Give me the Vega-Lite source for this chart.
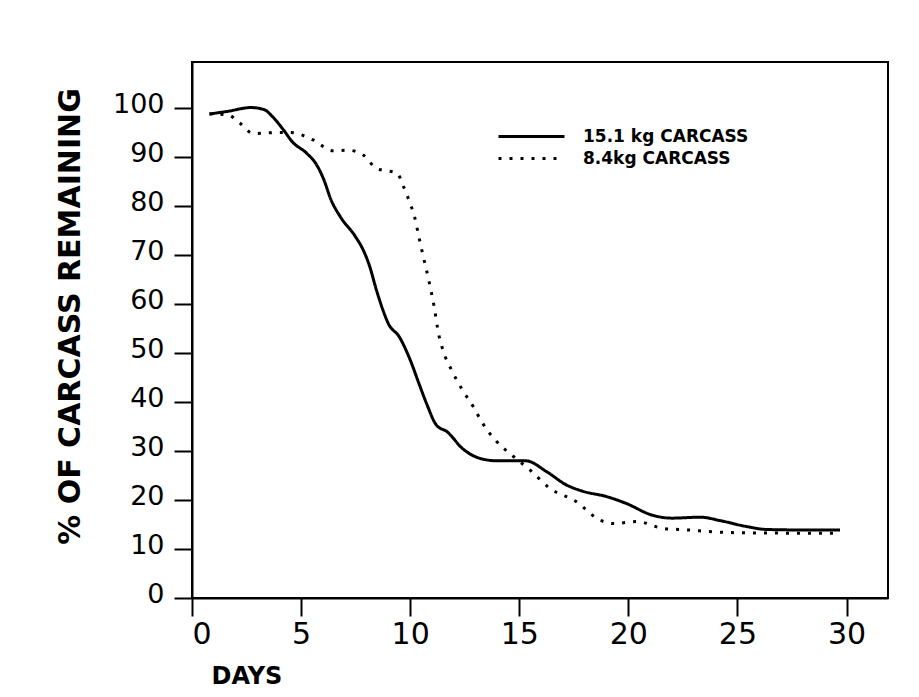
{
  "$schema": "https://vega.github.io/schema/vega-lite/v6.json",
  "width": 696,
  "height": 536,
  "autosize": {"type": "none"},
  "padding": {"left": 192, "top": 62, "right": 31, "bottom": 99},
  "background": "white",
  "config": {
    "view": {"stroke": "black", "strokeWidth": 2},
    "axis": {"grid": false, "domainColor": "black", "domainWidth": 2, "tickColor": "black", "tickWidth": 2, "tickSize": 18, "labelColor": "black", "labelFont": "DejaVu Sans", "titleColor": "black", "titleFont": "DejaVu Sans", "titleFontWeight": "bold"}
  },
  "data": {
    "values": [
      {"day": 0.8, "pct": 98.8, "series": "15.1 kg CARCASS"},
      {"day": 1.6, "pct": 99.3, "series": "15.1 kg CARCASS"},
      {"day": 2.7, "pct": 100.1, "series": "15.1 kg CARCASS"},
      {"day": 3.3, "pct": 99.7, "series": "15.1 kg CARCASS"},
      {"day": 3.7, "pct": 98.2, "series": "15.1 kg CARCASS"},
      {"day": 4.2, "pct": 95.5, "series": "15.1 kg CARCASS"},
      {"day": 4.6, "pct": 93.1, "series": "15.1 kg CARCASS"},
      {"day": 5.25, "pct": 90.8, "series": "15.1 kg CARCASS"},
      {"day": 5.7, "pct": 88.5, "series": "15.1 kg CARCASS"},
      {"day": 6.05, "pct": 85.3, "series": "15.1 kg CARCASS"},
      {"day": 6.35, "pct": 81.5, "series": "15.1 kg CARCASS"},
      {"day": 6.8, "pct": 77.8, "series": "15.1 kg CARCASS"},
      {"day": 7.5, "pct": 73.7, "series": "15.1 kg CARCASS"},
      {"day": 7.85, "pct": 71.0, "series": "15.1 kg CARCASS"},
      {"day": 8.15, "pct": 67.6, "series": "15.1 kg CARCASS"},
      {"day": 8.45, "pct": 62.9, "series": "15.1 kg CARCASS"},
      {"day": 8.75, "pct": 58.8, "series": "15.1 kg CARCASS"},
      {"day": 9.0, "pct": 56.0, "series": "15.1 kg CARCASS"},
      {"day": 9.5, "pct": 53.3, "series": "15.1 kg CARCASS"},
      {"day": 10.0, "pct": 48.6, "series": "15.1 kg CARCASS"},
      {"day": 10.4, "pct": 43.8, "series": "15.1 kg CARCASS"},
      {"day": 10.75, "pct": 39.7, "series": "15.1 kg CARCASS"},
      {"day": 11.2, "pct": 35.3, "series": "15.1 kg CARCASS"},
      {"day": 11.7, "pct": 33.9, "series": "15.1 kg CARCASS"},
      {"day": 12.4, "pct": 30.5, "series": "15.1 kg CARCASS"},
      {"day": 13.2, "pct": 28.5, "series": "15.1 kg CARCASS"},
      {"day": 14.0, "pct": 28.0, "series": "15.1 kg CARCASS"},
      {"day": 15.3, "pct": 28.0, "series": "15.1 kg CARCASS"},
      {"day": 16.25, "pct": 25.8, "series": "15.1 kg CARCASS"},
      {"day": 17.15, "pct": 23.1, "series": "15.1 kg CARCASS"},
      {"day": 17.9, "pct": 21.8, "series": "15.1 kg CARCASS"},
      {"day": 19.0, "pct": 20.7, "series": "15.1 kg CARCASS"},
      {"day": 19.9, "pct": 19.3, "series": "15.1 kg CARCASS"},
      {"day": 21.1, "pct": 16.9, "series": "15.1 kg CARCASS"},
      {"day": 22.0, "pct": 16.3, "series": "15.1 kg CARCASS"},
      {"day": 23.3, "pct": 16.5, "series": "15.1 kg CARCASS"},
      {"day": 24.2, "pct": 15.8, "series": "15.1 kg CARCASS"},
      {"day": 25.4, "pct": 14.6, "series": "15.1 kg CARCASS"},
      {"day": 26.3, "pct": 14.0, "series": "15.1 kg CARCASS"},
      {"day": 27.5, "pct": 13.9, "series": "15.1 kg CARCASS"},
      {"day": 29.7, "pct": 13.9, "series": "15.1 kg CARCASS"},
      {"day": 0.8, "pct": 98.8, "series": "8.4kg CARCASS"},
      {"day": 1.65, "pct": 98.6, "series": "8.4kg CARCASS"},
      {"day": 2.2, "pct": 96.9, "series": "8.4kg CARCASS"},
      {"day": 2.8, "pct": 94.8, "series": "8.4kg CARCASS"},
      {"day": 3.9, "pct": 95.0, "series": "8.4kg CARCASS"},
      {"day": 4.5, "pct": 95.0, "series": "8.4kg CARCASS"},
      {"day": 5.55, "pct": 93.5, "series": "8.4kg CARCASS"},
      {"day": 6.45, "pct": 91.3, "series": "8.4kg CARCASS"},
      {"day": 7.15, "pct": 91.4, "series": "8.4kg CARCASS"},
      {"day": 7.85, "pct": 90.4, "series": "8.4kg CARCASS"},
      {"day": 8.45, "pct": 87.7, "series": "8.4kg CARCASS"},
      {"day": 9.4, "pct": 86.7, "series": "8.4kg CARCASS"},
      {"day": 9.7, "pct": 83.9, "series": "8.4kg CARCASS"},
      {"day": 10.0, "pct": 80.5, "series": "8.4kg CARCASS"},
      {"day": 10.2, "pct": 77.8, "series": "8.4kg CARCASS"},
      {"day": 10.4, "pct": 73.7, "series": "8.4kg CARCASS"},
      {"day": 10.6, "pct": 69.7, "series": "8.4kg CARCASS"},
      {"day": 10.85, "pct": 64.9, "series": "8.4kg CARCASS"},
      {"day": 11.1, "pct": 59.4, "series": "8.4kg CARCASS"},
      {"day": 11.3, "pct": 54.0, "series": "8.4kg CARCASS"},
      {"day": 11.5, "pct": 50.6, "series": "8.4kg CARCASS"},
      {"day": 11.9, "pct": 46.5, "series": "8.4kg CARCASS"},
      {"day": 12.4, "pct": 42.4, "series": "8.4kg CARCASS"},
      {"day": 12.9, "pct": 39.0, "series": "8.4kg CARCASS"},
      {"day": 13.3, "pct": 35.8, "series": "8.4kg CARCASS"},
      {"day": 13.95, "pct": 32.0, "series": "8.4kg CARCASS"},
      {"day": 14.7, "pct": 29.0, "series": "8.4kg CARCASS"},
      {"day": 15.5, "pct": 26.1, "series": "8.4kg CARCASS"},
      {"day": 16.4, "pct": 22.4, "series": "8.4kg CARCASS"},
      {"day": 17.6, "pct": 19.7, "series": "8.4kg CARCASS"},
      {"day": 18.7, "pct": 15.9, "series": "8.4kg CARCASS"},
      {"day": 19.3, "pct": 15.2, "series": "8.4kg CARCASS"},
      {"day": 20.4, "pct": 15.6, "series": "8.4kg CARCASS"},
      {"day": 21.6, "pct": 14.2, "series": "8.4kg CARCASS"},
      {"day": 22.7, "pct": 13.9, "series": "8.4kg CARCASS"},
      {"day": 23.9, "pct": 13.5, "series": "8.4kg CARCASS"},
      {"day": 25.4, "pct": 13.3, "series": "8.4kg CARCASS"},
      {"day": 29.7, "pct": 13.2, "series": "8.4kg CARCASS"}
    ]
  },
  "mark": {"type": "line", "interpolate": "monotone", "color": "black", "strokeWidth": 3},
  "encoding": {
    "x": {
      "field": "day", "type": "quantitative",
      "scale": {"domain": [0, 31.9], "nice": false, "zero": false},
      "axis": {"values": [0, 5, 10, 15, 20, 25, 30], "labelFontSize": 30, "labelPadding": 3, "title": "DAYS", "titleFontSize": 24, "titleAnchor": "start", "titleAlign": "left", "titleBaseline": "top", "titleX": 19, "titleY": 66}
    },
    "y": {
      "field": "pct", "type": "quantitative",
      "scale": {"domain": [0, 109.4], "nice": false, "zero": false},
      "axis": {"values": [0, 10, 20, 30, 40, 50, 60, 70, 80, 90, 100], "labelFontSize": 27, "labelPadding": 10, "labelOffset": -4, "title": "% OF CARCASS REMAINING", "titleFontSize": 30, "titleAngle": -90, "titleAlign": "center", "titleBaseline": "middle", "titleX": -122, "titleY": 254}
    },
    "strokeDash": {
      "field": "series", "type": "nominal",
      "scale": {"domain": ["15.1 kg CARCASS", "8.4kg CARCASS"], "range": [[1, 0], [3, 8]]},
      "legend": {"title": null, "orient": "none", "legendX": 327, "legendY": 62, "padding": 0, "symbolType": "M-3,0H3", "symbolSize": 484, "symbolStrokeWidth": 3, "symbolStrokeColor": "black", "labelFont": "DejaVu Sans", "labelFontWeight": "bold", "labelFontSize": 17, "labelColor": "black", "labelOffset": 39, "labelLimit": 400, "rowPadding": 1}
    }
  }
}
